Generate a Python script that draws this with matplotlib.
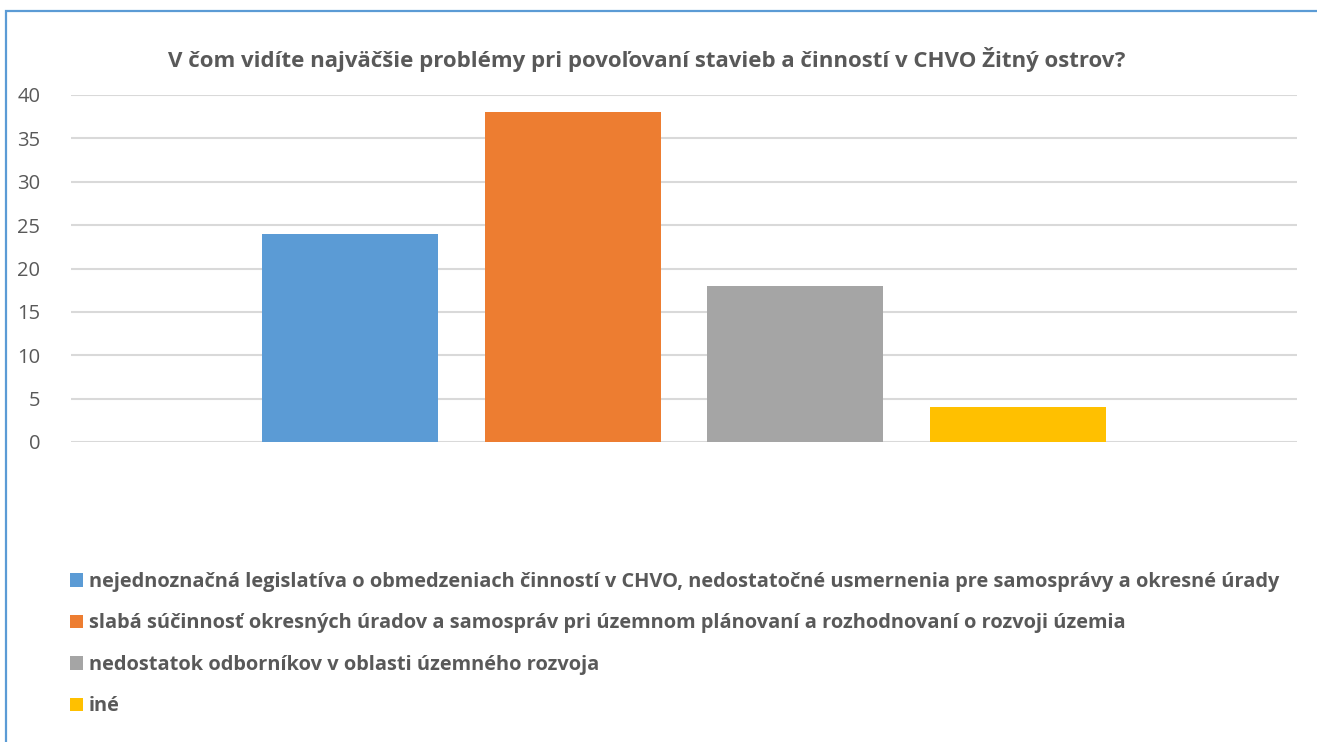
import matplotlib
matplotlib.use("Agg")
import matplotlib.pyplot as plt
from matplotlib.patches import Patch, Rectangle

# data
series_labels = [
    "nejednoznačná legislatíva o obmedzeniach činností v CHVO, nedostatočné usmernenia pre samosprávy a okresné úrady",
    "slabá súčinnosť okresných úradov a samospráv pri územnom plánovaní a rozhodnovaní o rozvoji územia",
    "nedostatok odborníkov v oblasti územného rozvoja",
    "iné",
]
series_values = [24, 38, 18, 4]
series_colors = ["#5B9BD5", "#ED7D31", "#A5A5A5", "#FFC000"]
y_ticks = [0, 5, 10, 15, 20, 25, 30, 35, 40]
title = "V čom vidíte najväčšie problémy pri povoľovaní stavieb a činností v CHVO Žitný ostrov?"

txt_color = "#595959"
plt.rcParams['font.family'] = ['Open Sans', 'DejaVu Sans']

W, H = 1317, 742
fig = plt.figure(figsize=(W / 100, H / 100), dpi=100)

# chart border (right/bottom edges fall outside the picture)
fig.patches.append(Rectangle((5.5 / W, -0.1), 1.2, 1 - 11 / H + 0.1, transform=fig.transFigure,
                             fill=False, edgecolor="#5B9BD5", linewidth=1.6))

ax = fig.add_axes([71 / W, 1 - 442 / H, (1297 - 71) / W, (442 - 95) / H])
xs = list(range(len(series_values)))
ax.bar(xs, series_values, width=0.79, color=series_colors, zorder=3)
ax.set_xlim(1.5 - 2.753, 1.5 + 2.753)
ax.set_ylim(0, 40)
ax.set_yticks(y_ticks)
ax.yaxis.grid(True, color="#D9D9D9", linewidth=1.5, zorder=0)
ax.set_xticks([])
for s in ax.spines.values():
    s.set_visible(False)
ax.tick_params(axis="y", length=0, pad=22, labelsize=14.5, labelcolor=txt_color)
for lab in ax.get_yticklabels():
    lab.set_horizontalalignment("right")

fig.text(646.5 / W, 1 - 60 / H, title, ha="center", va="center", fontsize=16,
         fontweight="bold", color=txt_color)

handles = [Patch(facecolor=c) for c in series_colors]
fig.legend(handles, series_labels, loc="upper left", bbox_to_anchor=(52 / W, 1 - 554 / H),
           frameon=False, labelcolor=txt_color, prop={'weight': 'bold', 'size': 14.42},
           handlelength=0.65, handleheight=0.65, handletextpad=0.3, labelspacing=1.07)

fig.savefig("out.png", dpi=100)
